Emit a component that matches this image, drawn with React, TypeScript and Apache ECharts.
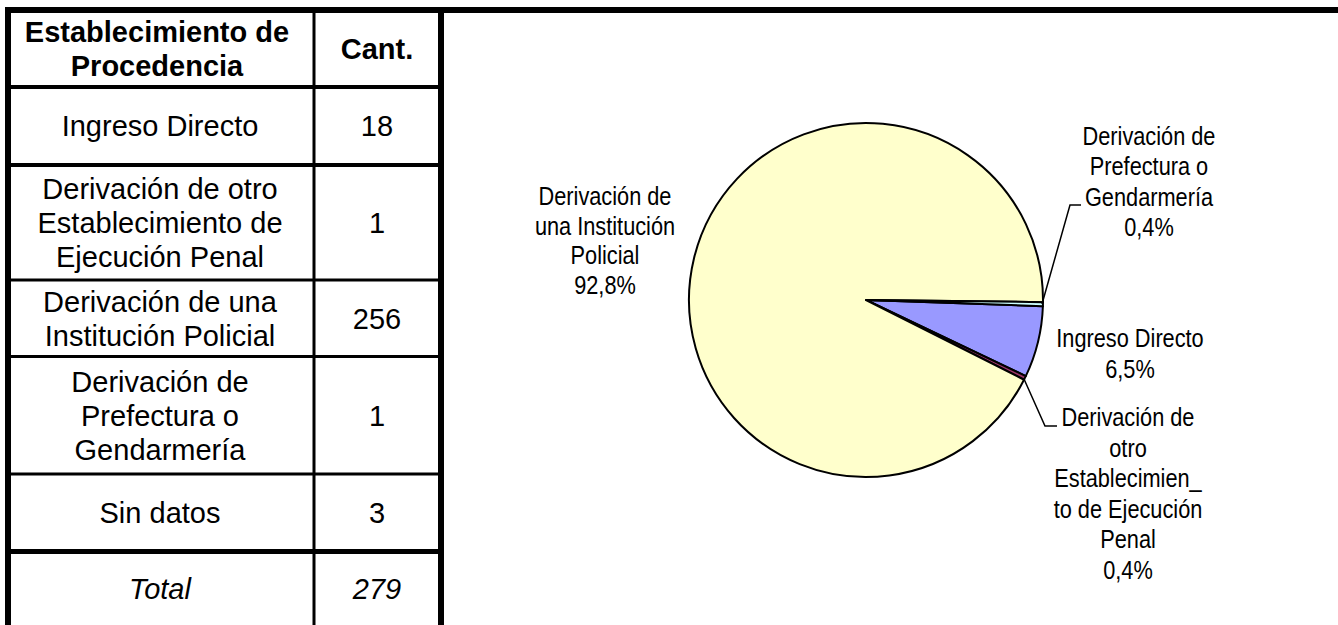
import { useEffect, useRef } from "react";
import * as echarts from "echarts";

// ---------- data ----------
const categories = [
  "Ingreso Directo",
  "Derivación de otro Establecimiento de Ejecución Penal",
  "Derivación de una Institución Policial",
  "Derivación de Prefectura o Gendarmería",
  "Sin datos",
];
const counts = [18, 1, 256, 1, 3];
const tableRowLabels = [
  "Ingreso Directo",
  "Derivación de otro\nEstablecimiento de\nEjecución Penal",
  "Derivación de una\nInstitución Policial",
  "Derivación de\nPrefectura o\nGendarmería",
  "Sin datos",
];
const headerLabels = ["Establecimiento de\nProcedencia", "Cant."];
const totalLabel = "Total";
const totalCount = 279;
// the pie shows the four known origins (not "Sin datos")
const pieCategoryIndex = [0, 1, 2, 3];
const pieLabels = [
  "Ingreso Directo",
  "Derivación de\notro\nEstablecimien_\nto de Ejecución\nPenal",
  "Derivación de\nuna Institución\nPolicial",
  "Derivación de\nPrefectura o\nGendarmería",
];
const pieColors = ["#9999FF", "#993366", "#FFFFCC", "#CCFFFF"];

// ---------- layout ----------
const W = 1338;
const H = 625;
const rowBounds = [13, 85, 163, 278.5, 355, 472.5, 549, 625];
const rowLines: [number, number][] = [
  [85, 4],
  [163, 4],
  [278.5, 3],
  [355, 3],
  [472.5, 3],
  [549, 5],
];
const colLeftCenter = 160;
const colRightCenter = 377;
const labelCenters = [
  [1130, 354],
  [1128, 494],
  [605, 241],
  [1149, 182],
];
const labelLineHeights = [31, 30.5, 29.5, 30.5];
const leaderPoints: (number[][] | null)[] = [
  null,
  [
    [1024, 379],
    [1045, 426],
    [1057, 426],
  ],
  null,
  [
    [1042, 304],
    [1070, 205],
    [1081, 205],
  ],
];

const TABLE_FONT = '"Liberation Sans", Arial, sans-serif';
const LABEL_FONT = '"Liberation Sans", Arial, sans-serif';
const LABEL_SCALE_X = 0.87; // Arial Narrow look

export default function App() {
  const ref = useRef<HTMLDivElement>(null);

  useEffect(() => {
    if (!ref.current) return;
    const chart = echarts.init(ref.current, undefined, { renderer: "svg" });

    const pieValues = pieCategoryIndex.map((i) => counts[i]);
    const pieTotal = pieValues.reduce((a, b) => a + b, 0);

    const graphics: any[] = [];
    const rect = (x: number, y: number, w: number, h: number) =>
      graphics.push({
        type: "rect",
        silent: true,
        z: 20,
        shape: { x, y, width: w, height: h },
        style: { fill: "#000" },
      });
    // borders
    rect(5, 7, W - 5, 6);
    rect(5, 7, 6, H - 7);
    rect(312.5, 13, 3, H - 13);
    rect(438, 7, 6, H - 7);
    rowLines.forEach(([y, t]) => rect(11, y, 427, t));

    const text = (
      s: string,
      x: number,
      y: number,
      opts: { bold?: boolean; italic?: boolean } = {}
    ) =>
      graphics.push({
        type: "text",
        silent: true,
        z: 20,
        style: {
          text: s,
          x,
          y,
          align: "center",
          verticalAlign: "middle",
          fontFamily: TABLE_FONT,
          fontSize: 29,
          fontWeight: opts.bold ? "bold" : "normal",
          fontStyle: opts.italic ? "italic" : "normal",
          lineHeight: 34,
          fill: "#000",
        },
      });
    const mid = (k: number) =>
      (rowBounds[k] + rowBounds[k + 1]) / 2 + (k === 0 ? -0.5 : 2);
    text(headerLabels[0], colLeftCenter - 3, mid(0), { bold: true });
    text(headerLabels[1], colRightCenter, mid(0), { bold: true });
    tableRowLabels.forEach((lbl, i) => {
      text(lbl, colLeftCenter, mid(i + 1));
      text(String(counts[i]), colRightCenter, mid(i + 1));
    });
    text(totalLabel, colLeftCenter, mid(6), { italic: true });
    text(String(totalCount), colRightCenter, mid(6), { italic: true });

    // pie data labels (narrow font look) and leader lines
    pieCategoryIndex.forEach((ci, k) => {
      const pct = ((counts[ci] / pieTotal) * 100).toFixed(1).replace(".", ",") + "%";
      graphics.push({
        type: "text",
        silent: true,
        z: 20,
        x: labelCenters[k][0],
        y: labelCenters[k][1],
        scaleX: LABEL_SCALE_X,
        style: {
          text: pieLabels[k] + "\n" + pct,
          x: 0,
          y: 0,
          align: "center",
          verticalAlign: "middle",
          fontFamily: LABEL_FONT,
          fontSize: 25,
          lineHeight: labelLineHeights[k],
          fill: "#000",
        },
      });
      const pts = leaderPoints[k];
      if (pts) {
        graphics.push({
          type: "polyline",
          silent: true,
          z: 20,
          shape: { points: pts },
          style: { stroke: "#000", lineWidth: 1.5, fill: "none" },
        });
      }
    });

    chart.setOption({
      animation: false,
      backgroundColor: "#fff",
      graphic: graphics,
      series: [
        {
          type: "pie",
          center: [866, 300],
          radius: 177,
          startAngle: -2,
          clockwise: true,
          avoidLabelOverlap: false,
          silent: true,
          emphasis: { disabled: true },
          itemStyle: { borderColor: "#000", borderWidth: 2 },
          label: { show: false },
          labelLine: { show: false },
          data: pieCategoryIndex.map((ci, k) => ({
            name: categories[ci],
            value: counts[ci],
            itemStyle: { color: pieColors[k] },
          })),
        },
      ],
    });

    return () => chart.dispose();
  }, []);

  return (
    <div
      ref={ref}
      style={{ position: "absolute", left: 0, top: 0, width: W, height: H }}
    />
  );
}
